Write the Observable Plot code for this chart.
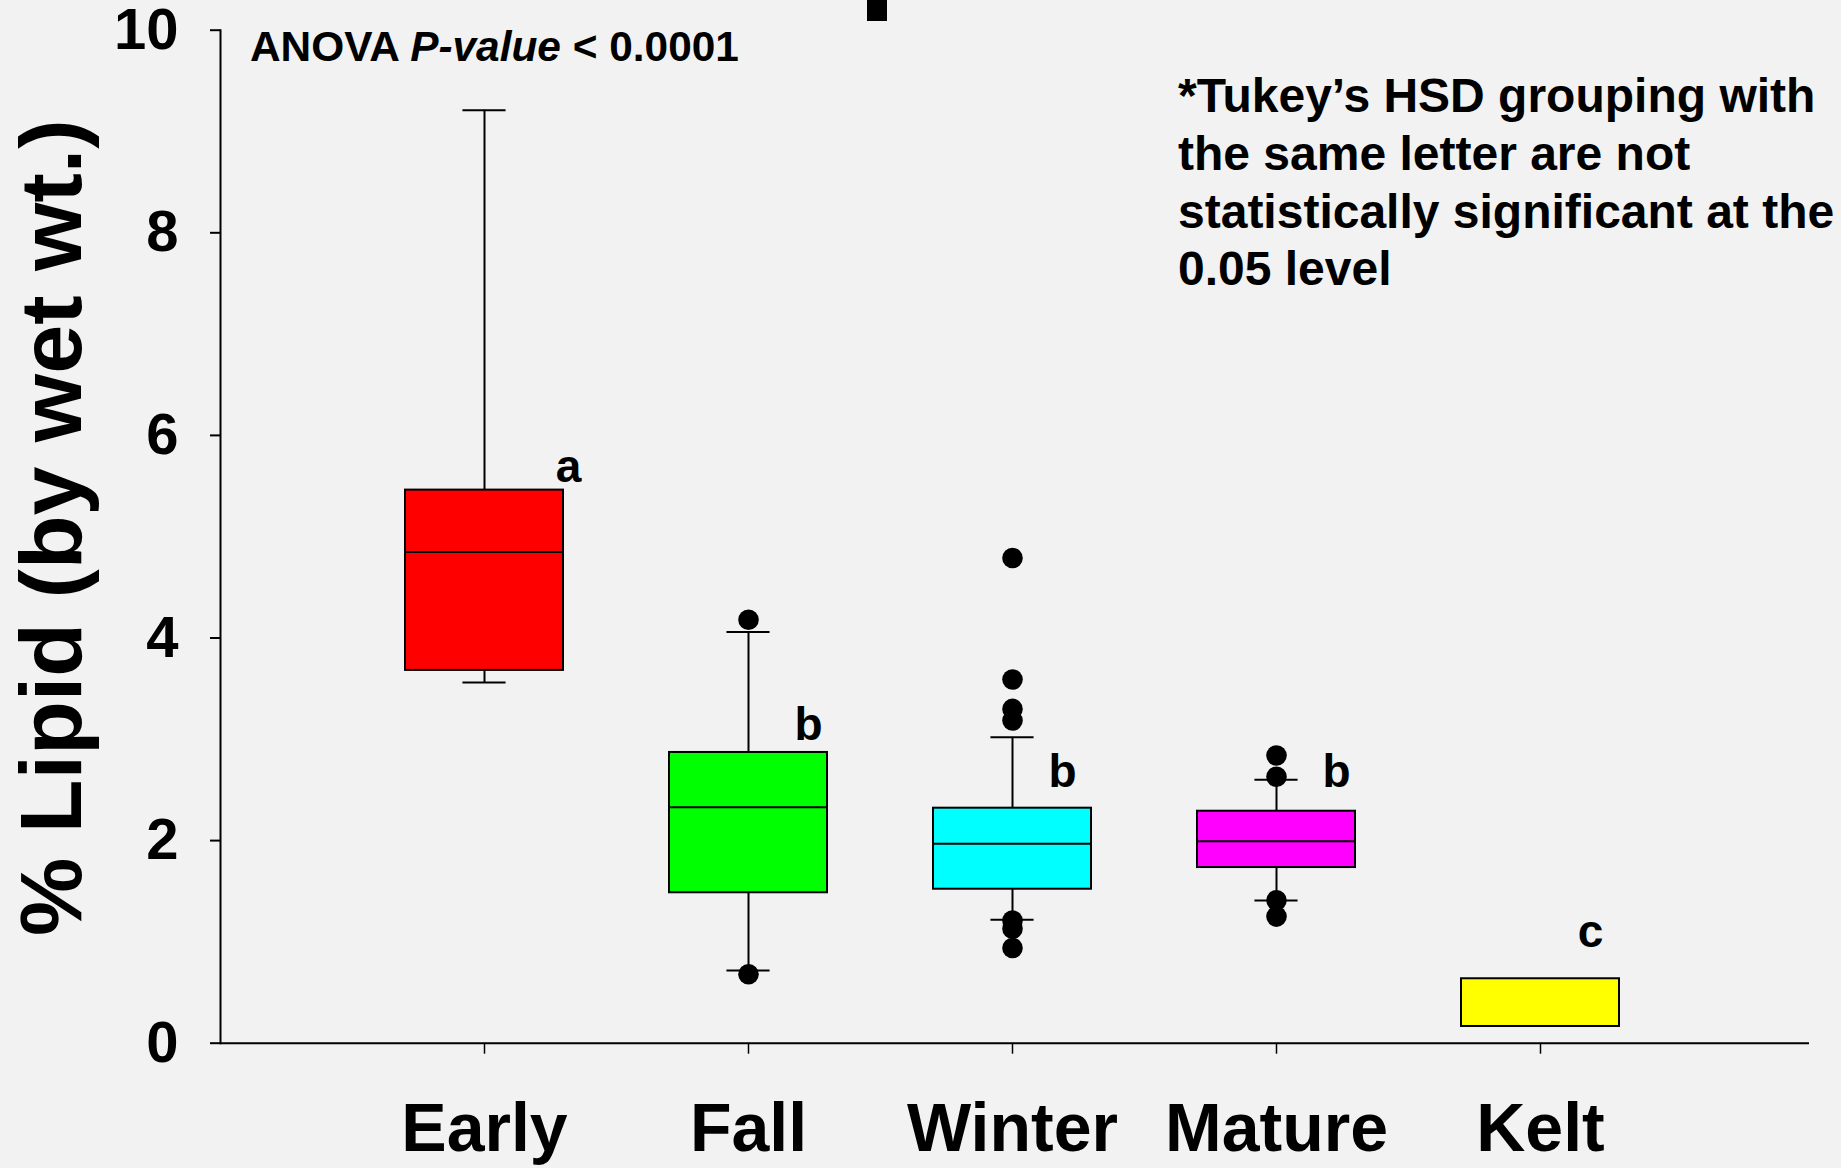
<!DOCTYPE html>
<html>
<head>
<meta charset="utf-8">
<script src="https://cdn.jsdelivr.net/npm/d3@7"></script>
<script src="https://cdn.jsdelivr.net/npm/@observablehq/plot@0.6"></script>
<style>
  html, body { margin: 0; padding: 0; background: #f2f2f2; }
  #wrap { position: relative; width: 1841px; height: 1168px; overflow: hidden; font-family: "Liberation Sans", Arial, sans-serif; font-weight: bold; color: #000; }
  #wrap svg text { font-weight: bold; }
  .note { position: absolute; white-space: nowrap; font-weight: bold; }
  #anova { left: 250px; top: 26px; font-size: 42.4px; line-height: 42px; }
  #tukey { left: 1178px; top: 67px; font-size: 48px; line-height: 57.8px; }
  #blk { position: absolute; left: 867px; top: 0; width: 20px; height: 21px; background: #000; }
</style>
</head>
<body>
<div id="wrap">
  <div id="chart"></div>
  <div class="note" id="anova">ANOVA <i>P-value</i> &lt; 0.0001</div>
  <div class="note" id="tukey">*Tukey’s HSD grouping with<br>the same letter are not<br>statistically significant at the<br>0.05 level</div>
  <div id="blk"></div>
</div>
<script>
const categories = ["Early", "Fall", "Winter", "Mature", "Kelt"];
const fillColors = ["#ff0000", "#00ff00", "#00ffff", "#ff00ff", "#ffff00"];
const q1 = [3.68, 1.485, 1.52, 1.734, 0.165];
const median = [4.85, 2.33, 1.97, 1.994, null];
const q3 = [5.46, 2.87, 2.32, 2.29, 0.636];
const whiskerLow = [3.56, 0.718, 1.218, 1.409, null];
const whiskerHigh = [9.21, 4.06, 3.02, 2.60, null];
const outliersEarly = [];
const outliersFall = [4.18, 0.68];
const outliersWinter = [4.79, 3.59, 3.30, 3.185, 1.21, 1.13, 0.94];
const outliersMature = [2.84, 2.63, 1.41, 1.25];
const outliersKelt = [];
const groupLetters = ["a", "b", "b", "b", "c"];
const letterHeights = [5.54, 2.995, 2.527, 2.527, 0.948];
const yTicks = [0, 2, 4, 6, 8, 10];
const yLabel = "% Lipid (by wet wt.)";

const boxes = categories.map((c, i) => ({
  cat: c, q1: q1[i], median: median[i], q3: q3[i],
  lo: whiskerLow[i], hi: whiskerHigh[i], letter: groupLetters[i], ly: letterHeights[i]
}));
const outlierLists = [outliersEarly, outliersFall, outliersWinter, outliersMature, outliersKelt];
const outliers = outlierLists.flatMap((arr, i) => arr.map(v => ({cat: categories[i], value: v})));
const withMedian = boxes.filter(d => d.median != null);
const withWhiskers = boxes.filter(d => d.hi != null);

const W = 1841, H = 1168;
const step = (W - 220 - 32) / 6;
const bandW = step * 0.6;
const capInset = (bandW - 44) / 2;
const font = "Liberation Sans, Arial, sans-serif";
const letterDx = [82, 58, 48, 58, 48];
const letterMark = (k) => Plot.text(boxes.filter((d, i) => letterDx[i] === k), {
  x: "cat", y: "ly", text: "letter", dx: k, lineAnchor: "bottom", fontSize: 46, fontWeight: "bold"
});

const chart = Plot.plot({
  width: W, height: H,
  marginLeft: 220, marginRight: 32, marginTop: 29.7, marginBottom: 125.3,
  style: { background: "#f2f2f2", fontFamily: font, color: "#000" },
  x: { domain: categories, paddingInner: 0.4, paddingOuter: 0.7, label: null },
  y: { domain: [0, 10], label: null },
  color: { domain: categories, range: fillColors },
  marks: [
    Plot.axisY({ ticks: yTicks, tickSize: 10, tickPadding: 32, fontSize: 58, fontWeight: "bold", strokeWidth: 2, label: null }),
    Plot.axisX({ tickSize: 11, tickPadding: 49, fontSize: 68, fontWeight: "bold", strokeWidth: 1.5, label: null, dx: -2 }),
    Plot.frame({ anchor: "left", strokeWidth: 2 }),
    Plot.ruleY([0], { strokeWidth: 2 }),
    Plot.ruleX(withWhiskers, { x: "cat", y1: "q3", y2: "hi", strokeWidth: 2, dx: -2 }),
    Plot.ruleX(withWhiskers, { x: "cat", y1: "lo", y2: "q1", strokeWidth: 2, dx: -2 }),
    Plot.tickY(withWhiskers, { x: "cat", y: "hi", strokeWidth: 2, insetLeft: capInset, insetRight: capInset, dx: -2 }),
    Plot.tickY(withWhiskers, { x: "cat", y: "lo", strokeWidth: 2, insetLeft: capInset, insetRight: capInset, dx: -2 }),
    Plot.barY(boxes, { x: "cat", y1: "q1", y2: "q3", fill: "cat", stroke: "#000", strokeWidth: 2, dx: -2 }),
    Plot.tickY(withMedian, { x: "cat", y: "median", strokeWidth: 2, dx: -2 }),
    Plot.dot(outliers, { x: "cat", y: "value", r: 10.3, fill: "#000", dx: -2 }),
    ...[...new Set(letterDx)].map(letterMark),
    Plot.text([yLabel], { frameAnchor: "left", textAnchor: "middle", text: d => d, rotate: -90, dx: -168, dy: -9, fontSize: 88, fontWeight: "bold" })
  ]
});
document.getElementById("chart").appendChild(chart);
</script>
</body>
</html>
